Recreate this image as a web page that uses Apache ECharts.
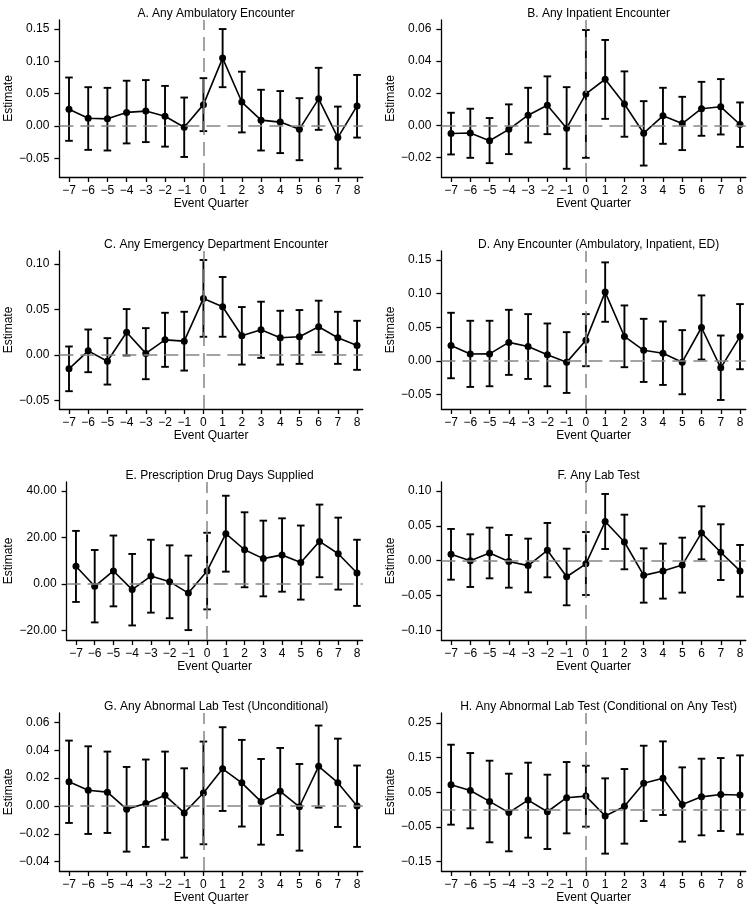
<!DOCTYPE html>
<html>
<head>
<meta charset="utf-8">
<script src="https://cdn.jsdelivr.net/npm/echarts@6/dist/echarts.min.js"></script>
<style>
  html, body { margin: 0; padding: 0; background: #fff; }
  #main { width: 754px; height: 906px; }
</style>
</head>
<body>
<div id="main"></div>
<script>
var quarters = [-7, -6, -5, -4, -3, -2, -1, 0, 1, 2, 3, 4, 5, 6, 7, 8];

// A. Any Ambulatory Encounter
var ambEst = [0.026, 0.012, 0.011, 0.021, 0.023, 0.015, -0.002, 0.033, 0.105, 0.037, 0.009, 0.006, -0.005, 0.042, -0.018, 0.031];
var ambLo = [-0.023, -0.037, -0.038, -0.027, -0.025, -0.032, -0.048, -0.008, 0.060, -0.010, -0.038, -0.042, -0.053, -0.006, -0.066, -0.018];
var ambHi = [0.075, 0.060, 0.059, 0.070, 0.071, 0.062, 0.044, 0.074, 0.150, 0.084, 0.056, 0.054, 0.043, 0.090, 0.030, 0.079];
var ambTicks = [-0.05, 0, 0.05, 0.10, 0.15];

// B. Any Inpatient Encounter
var inpEst = [-0.005, -0.0047, -0.0095, -0.0024, 0.0064, 0.0126, -0.0017, 0.0196, 0.0287, 0.0133, -0.0048, 0.0060, 0.0012, 0.0104, 0.0116, 0.0006];
var inpLo = [-0.018, -0.0201, -0.0234, -0.0178, -0.0106, -0.0054, -0.0269, -0.0201, 0.0041, -0.0070, -0.0249, -0.0114, -0.0153, -0.0064, -0.0056, -0.0133];
var inpHi = [0.0079, 0.0104, 0.0046, 0.0131, 0.0234, 0.0305, 0.0238, 0.0593, 0.0531, 0.0336, 0.0151, 0.0234, 0.0178, 0.0271, 0.0288, 0.0143];
var inpTicks = [-0.02, 0, 0.02, 0.04, 0.06];

// C. Any Emergency Department Encounter
var edEst = [-0.0154, 0.0044, -0.0071, 0.0249, 0.0016, 0.0165, 0.0151, 0.0621, 0.0529, 0.0210, 0.0276, 0.0188, 0.0199, 0.0310, 0.0188, 0.0104];
var edLo = [-0.0400, -0.0191, -0.0327, -0.0007, -0.0268, -0.0132, -0.0173, 0.0199, 0.0199, -0.0107, -0.0033, -0.0107, -0.0099, 0.0029, -0.0099, -0.0165];
var edHi = [0.0092, 0.0279, 0.0184, 0.0504, 0.0294, 0.0463, 0.0474, 0.1044, 0.0857, 0.0526, 0.0585, 0.0485, 0.0493, 0.0596, 0.0474, 0.0375];
var edTicks = [-0.05, 0, 0.05, 0.10];

// D. Any Encounter (Ambulatory, Inpatient, ED)
var anyEst = [0.0228, 0.0102, 0.0104, 0.0275, 0.0213, 0.0090, -0.0022, 0.0308, 0.1022, 0.0363, 0.0157, 0.0114, -0.0020, 0.0496, -0.0103, 0.0361];
var anyLo = [-0.0258, -0.0387, -0.0377, -0.0208, -0.0268, -0.0377, -0.0476, -0.0079, 0.0581, -0.0094, -0.0313, -0.0357, -0.0496, 0.0020, -0.0581, -0.0124];
var anyHi = [0.0715, 0.0596, 0.0596, 0.0759, 0.0695, 0.0556, 0.0427, 0.0695, 0.1464, 0.0824, 0.0625, 0.0586, 0.0457, 0.0973, 0.0377, 0.0844];
var anyTicks = [-0.05, 0, 0.05, 0.10, 0.15];

// E. Prescription Drug Days Supplied
var rxEst = [7.6, -1.0, 5.6, -2.4, 3.4, 1.0, -3.9, 5.6, 21.6, 14.7, 10.9, 12.5, 9.2, 18.3, 13.0, 4.7];
var rxLo = [-7.7, -16.5, -9.6, -17.8, -12.3, -14.7, -19.8, -10.9, 5.3, -1.4, -5.3, -3.3, -6.7, 2.9, -2.4, -9.4];
var rxHi = [22.8, 14.6, 20.8, 12.9, 19.0, 16.6, 12.2, 22.0, 37.9, 30.8, 27.2, 28.2, 25.1, 34.1, 28.5, 19.0];
var rxTicks = [-20, 0, 20, 40];

// F. Any Lab Test
var labEst = [0.0091, 0.0000, 0.0110, -0.0013, -0.0071, 0.0149, -0.0231, -0.0046, 0.0561, 0.0268, -0.0211, -0.0149, -0.0063, 0.0398, 0.0121, -0.0147];
var labLo = [-0.0273, -0.0378, -0.0254, -0.0388, -0.0455, -0.0239, -0.0641, -0.0493, 0.0167, -0.0124, -0.0603, -0.0545, -0.0459, 0.0019, -0.0278, -0.0517];
var labHi = [0.0455, 0.0378, 0.0474, 0.0368, 0.0316, 0.0541, 0.0172, 0.0411, 0.0957, 0.0660, 0.0177, 0.0244, 0.0330, 0.0780, 0.0522, 0.0225];
var labTicks = [-0.10, -0.05, 0, 0.05, 0.10];

// G. Any Abnormal Lab Test (Unconditional)
var abnEst = [0.0174, 0.0113, 0.0099, -0.0023, 0.0018, 0.0076, -0.0050, 0.0093, 0.0266, 0.0166, 0.0031, 0.0105, -0.0006, 0.0284, 0.0167, 0.0000];
var abnLo = [-0.0122, -0.0201, -0.0194, -0.0328, -0.0294, -0.0242, -0.0371, -0.0275, -0.0036, -0.0148, -0.0278, -0.0208, -0.0321, -0.0012, -0.0151, -0.0294];
var abnHi = [0.0469, 0.0428, 0.0390, 0.0280, 0.0333, 0.0390, 0.0270, 0.0462, 0.0565, 0.0474, 0.0337, 0.0416, 0.0301, 0.0577, 0.0483, 0.0290];
var abnTicks = [-0.04, -0.02, 0, 0.02, 0.04, 0.06];

// H. Any Abnormal Lab Test (Conditional on Any Test)
var condEst = [0.0721, 0.0553, 0.0238, -0.0085, 0.0277, -0.0060, 0.0346, 0.0392, -0.0183, 0.0096, 0.0760, 0.0906, 0.0152, 0.0370, 0.0440, 0.0425];
var condLo = [-0.0433, -0.0538, -0.0942, -0.1202, -0.0808, -0.1135, -0.0683, -0.0490, -0.1269, -0.0981, -0.0327, -0.0154, -0.0923, -0.0740, -0.0615, -0.0712];
var condHi = [0.1875, 0.1635, 0.1413, 0.1038, 0.1356, 0.1010, 0.1375, 0.1269, 0.0904, 0.1173, 0.1846, 0.1971, 0.1221, 0.1471, 0.1490, 0.1567];
var condTicks = [-0.15, -0.05, 0.05, 0.15, 0.25];

var panels = [
    { title: 'A. Any Ambulatory Encounter', est: ambEst, lo: ambLo, hi: ambHi, ticks: ambTicks, ymin: -0.079, ymax: 0.164, left: 59.4, top: 20, width: 303.4, height: 157, gap: 44 },
    { title: 'B. Any Inpatient Encounter', est: inpEst, lo: inpLo, hi: inpHi, ticks: inpTicks, ymin: -0.032, ymax: 0.0655, left: 441.4, top: 20, width: 304.4, height: 157, gap: 44 },
    { title: 'C. Any Emergency Department Encounter', est: edEst, lo: edLo, hi: edHi, ticks: edTicks, ymin: -0.0596, ymax: 0.1143, left: 59.4, top: 251, width: 303.4, height: 158, gap: 44 },
    { title: 'D. Any Encounter (Ambulatory, Inpatient, ED)', est: anyEst, lo: anyLo, hi: anyHi, ticks: anyTicks, ymin: -0.0715, ymax: 0.1633, left: 441.4, top: 251, width: 304.4, height: 158, gap: 44 },
    { title: 'E. Prescription Drug Days Supplied', est: rxEst, lo: rxLo, hi: rxHi, ticks: rxTicks, ymin: -24.05, ymax: 43.8, left: 66.6, top: 482, width: 296, height: 158, gap: 52 },
    { title: 'F. Any Lab Test', est: labEst, lo: labLo, hi: labHi, ticks: labTicks, ymin: -0.1139, ymax: 0.1129, left: 441.4, top: 482, width: 304.4, height: 158, gap: 44 },
    { title: 'G. Any Abnormal Lab Test (Unconditional)', est: abnEst, lo: abnLo, hi: abnHi, ticks: abnTicks, ymin: -0.0467, ymax: 0.0667, left: 59.4, top: 713, width: 303.4, height: 158, gap: 44 },
    { title: 'H. Any Abnormal Lab Test (Conditional on Any Test)', est: condEst, lo: condLo, hi: condHi, ticks: condTicks, ymin: -0.177, ymax: 0.279, left: 441.4, top: 713, width: 304.4, height: 158, gap: 44 }
];

var FONT = '"Liberation Sans", Arial, Helvetica, sans-serif';
var INK = '#000';
var DASH = '#858585';

function minus(s) {
    return String(s).replace('-', '\u2212');
}

var titles = [], grids = [], xAxes = [], yAxes = [], series = [];

panels.forEach(function (p, i) {
    titles.push({
        text: p.title,
        left: p.left + p.width / 2,
        top: p.top - 17,
        textAlign: 'center',
        textStyle: { fontFamily: FONT, fontSize: 12, fontWeight: 'normal', color: INK }
    });
    grids.push({ left: p.left, top: p.top, width: p.width, height: p.height, containLabel: false });
    xAxes.push({
        type: 'value',
        gridIndex: i,
        min: -7.5,
        max: 8.3,
        name: 'Event Quarter',
        nameLocation: 'middle',
        nameGap: 19,
        nameTextStyle: { fontFamily: FONT, fontSize: 12, color: INK },
        splitLine: { show: false },
        axisLine: { onZero: false, lineStyle: { color: INK, width: 1.3 } },
        axisTick: { customValues: quarters, length: 5, lineStyle: { color: INK, width: 1.3 } },
        axisLabel: {
            customValues: quarters,
            margin: 8,
            fontFamily: FONT, fontSize: 12, color: INK,
            formatter: function (v) { return minus(v); }
        }
    });
    yAxes.push({
        type: 'value',
        gridIndex: i,
        min: p.ymin,
        max: p.ymax,
        name: 'Estimate',
        nameLocation: 'middle',
        nameGap: p.gap,
        nameRotate: 90,
        nameTextStyle: { fontFamily: FONT, fontSize: 12, color: INK },
        splitLine: { show: false },
        axisLine: { show: true, onZero: false, lineStyle: { color: INK, width: 1.3 } },
        axisTick: { show: true, customValues: p.ticks, length: 5, lineStyle: { color: INK, width: 1.3 } },
        axisLabel: {
            customValues: p.ticks,
            margin: 10,
            fontFamily: FONT, fontSize: 12, color: INK,
            formatter: function (v) { return minus(Number(v).toFixed(2)); }
        }
    });

    // dashed reference lines at 0
    series.push({
        type: 'line',
        xAxisIndex: i,
        yAxisIndex: i,
        data: [],
        z: 1,
        silent: true,
        markLine: {
            silent: true,
            symbol: 'none',
            animation: false,
            label: { show: false },
            lineStyle: { color: DASH, width: 1.5, type: [14, 7] },
            data: [{ yAxis: 0 }, { xAxis: 0 }]
        }
    });

    // confidence intervals
    series.push({
        type: 'custom',
        xAxisIndex: i,
        yAxisIndex: i,
        z: 2,
        silent: true,
        encode: { x: 0, y: [1, 2] },
        data: quarters.map(function (q, k) { return [q, p.lo[k], p.hi[k]]; }),
        renderItem: function (params, api) {
            var top = api.coord([api.value(0), api.value(2)]);
            var bot = api.coord([api.value(0), api.value(1)]);
            var cap = 3.8;
            var style = { stroke: INK, lineWidth: 1.9 };
            return {
                type: 'group',
                children: [
                    { type: 'line', shape: { x1: top[0], y1: top[1], x2: bot[0], y2: bot[1] }, style: style },
                    { type: 'line', shape: { x1: top[0] - cap, y1: top[1], x2: top[0] + cap, y2: top[1] }, style: style },
                    { type: 'line', shape: { x1: bot[0] - cap, y1: bot[1], x2: bot[0] + cap, y2: bot[1] }, style: style }
                ]
            };
        }
    });

    // point estimates
    series.push({
        type: 'line',
        xAxisIndex: i,
        yAxisIndex: i,
        z: 3,
        silent: true,
        data: quarters.map(function (q, k) { return [q, p.est[k]]; }),
        symbol: 'circle',
        symbolSize: 7,
        itemStyle: { color: INK },
        lineStyle: { color: INK, width: 1.6 }
    });
});

var myChart = echarts.init(document.getElementById('main'), null, { renderer: 'canvas' });
myChart.setOption({
    animation: false,
    backgroundColor: '#fff',
    title: titles,
    grid: grids,
    xAxis: xAxes,
    yAxis: yAxes,
    series: series
});
</script>
</body>
</html>
